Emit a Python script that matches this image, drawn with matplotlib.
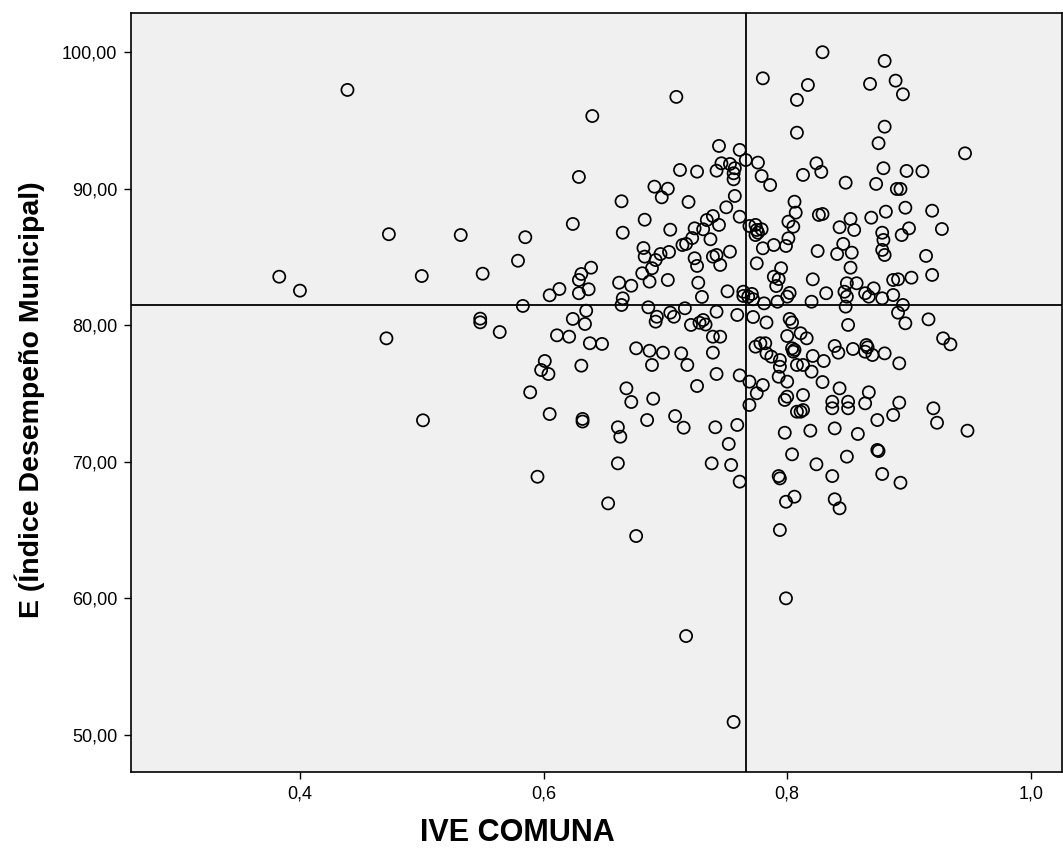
import matplotlib
matplotlib.use('Agg')
import matplotlib.pyplot as plt
import numpy as np

plt.rcParams['font.family'] = ['Liberation Sans', 'DejaVu Sans']

# ############################################################
# Datos (IVE comuna, indice de desempeno)
ive_izq = [0.439, 0.473, 0.532, 0.585, 0.579, 0.550, 0.500, 0.383, 0.400, 0.605,
           0.583, 0.548, 0.548, 0.564, 0.471, 0.601, 0.598, 0.604, 0.589, 0.605,
           0.501, 0.595]
ide_izq = [97.22, 86.66, 86.60, 86.44, 84.72, 83.77, 83.60, 83.55, 82.53, 82.19,
           81.41, 80.48, 80.21, 79.50, 79.04, 77.38, 76.72, 76.43, 75.09, 73.50,
           73.04, 68.91]

ive_a = [0.640, 0.629, 0.712, 0.691, 0.702, 0.697, 0.719, 0.664, 0.624, 0.683,
         0.665, 0.704, 0.682, 0.683, 0.696, 0.692, 0.703, 0.714, 0.717, 0.722,
         0.689, 0.681, 0.687, 0.702, 0.639, 0.631, 0.629, 0.637, 0.629, 0.613,
         0.662, 0.672, 0.665, 0.709]
ide_a = [95.31, 90.85, 91.36, 90.14, 89.99, 89.36, 89.02, 89.07, 87.41, 87.72,
         86.77, 86.99, 85.65, 85.02, 85.21, 84.77, 85.36, 85.87, 85.95, 86.38,
         84.17, 83.80, 83.19, 83.31, 84.21, 83.75, 83.31, 82.63, 82.34, 82.65,
         83.11, 82.89, 81.97, 96.71]

ive_b = [0.664, 0.635, 0.624, 0.634, 0.686, 0.693, 0.692, 0.704, 0.707, 0.716,
         0.611, 0.621, 0.638, 0.648, 0.676, 0.687, 0.698, 0.713, 0.689, 0.631,
         0.668, 0.672, 0.690, 0.632, 0.632, 0.685, 0.708, 0.715, 0.661, 0.663,
         0.661, 0.653, 0.676, 0.717]
ide_b = [81.48, 81.06, 80.46, 80.09, 81.31, 80.62, 80.26, 80.92, 80.62, 81.24,
         79.26, 79.16, 78.68, 78.63, 78.31, 78.13, 77.99, 77.94, 77.09, 77.04,
         75.38, 74.38, 74.62, 73.14, 72.95, 73.06, 73.35, 72.50, 72.53, 71.84,
         69.89, 66.96, 64.57, 57.25]

ive_c = [0.780, 0.808, 0.808, 0.744, 0.761, 0.766, 0.776, 0.779, 0.786, 0.813,
         0.726, 0.742, 0.746, 0.753, 0.757, 0.756, 0.756, 0.757, 0.750, 0.761,
         0.739, 0.734, 0.744, 0.731, 0.724, 0.737, 0.769, 0.774, 0.775, 0.779,
         0.774, 0.776, 0.806, 0.807, 0.801, 0.805, 0.801]
ide_c = [98.07, 96.49, 94.09, 93.12, 92.83, 92.09, 91.90, 90.92, 90.26, 91.00,
         91.24, 91.31, 91.85, 91.80, 91.49, 91.12, 90.68, 89.46, 88.63, 87.94,
         87.99, 87.70, 87.34, 87.02, 87.09, 86.29, 87.26, 87.34, 86.97, 87.02,
         86.60, 86.77, 89.04, 88.24, 87.58, 87.21, 86.36]

ive_d = [0.789, 0.780, 0.799, 0.753, 0.742, 0.739, 0.745, 0.724, 0.726, 0.775,
         0.795, 0.789, 0.793, 0.791, 0.727, 0.730, 0.751, 0.764, 0.764, 0.771,
         0.772, 0.768, 0.781, 0.802, 0.800, 0.792, 0.742, 0.759, 0.772, 0.783,
         0.728, 0.733, 0.731, 0.721, 0.802, 0.804]
ide_d = [85.87, 85.63, 85.80, 85.38, 85.14, 85.02, 84.41, 84.90, 84.34, 84.53,
         84.17, 83.55, 83.38, 82.87, 83.11, 82.07, 82.48, 82.45, 82.14, 82.29,
         81.90, 82.09, 81.60, 82.36, 82.09, 81.72, 80.99, 80.75, 80.60, 80.20,
         80.18, 80.05, 80.38, 80.02, 80.46, 80.20]

ive_e = [0.739, 0.745, 0.800, 0.774, 0.778, 0.782, 0.783, 0.787, 0.804, 0.806,
         0.805, 0.794, 0.794, 0.793, 0.800, 0.808, 0.718, 0.739, 0.742, 0.761,
         0.726, 0.769, 0.780, 0.775, 0.769, 0.800]
ide_e = [79.16, 79.16, 79.21, 78.43, 78.68, 78.68, 77.94, 77.70, 78.31, 78.19,
         78.06, 77.45, 76.96, 76.23, 75.87, 77.09, 77.09, 77.99, 76.43, 76.33,
         75.55, 75.87, 75.62, 75.02, 74.16, 74.77]

ive_f = [0.798, 0.808, 0.811, 0.813, 0.741, 0.759, 0.752, 0.738, 0.754, 0.761,
         0.798, 0.804, 0.793, 0.794, 0.806, 0.799, 0.794, 0.799, 0.756]
ide_f = [74.53, 73.67, 73.67, 73.79, 72.53, 72.70, 71.31, 69.89, 69.77, 68.55,
         72.13, 70.55, 68.96, 68.79, 67.45, 67.08, 65.01, 60.01, 50.96]

ive_g = [0.829, 0.880, 0.817, 0.868, 0.889, 0.895, 0.880, 0.875, 0.824, 0.828,
         0.848, 0.879, 0.873, 0.898, 0.911, 0.890, 0.893, 0.826, 0.829, 0.852,
         0.843, 0.855, 0.869, 0.881, 0.897, 0.919, 0.878, 0.894, 0.900, 0.927,
         0.946]
ide_g = [99.98, 99.34, 97.58, 97.66, 97.90, 96.90, 94.53, 93.32, 91.85, 91.22,
         90.43, 91.49, 90.34, 91.29, 91.27, 89.97, 89.97, 88.07, 88.14, 87.78,
         87.17, 86.97, 87.87, 88.31, 88.60, 88.38, 86.77, 86.60, 87.09, 87.04,
         92.58]

ive_h = [0.879, 0.878, 0.880, 0.825, 0.841, 0.846, 0.853, 0.852, 0.914, 0.821,
         0.919, 0.849, 0.857, 0.847, 0.849, 0.848, 0.832, 0.864, 0.867, 0.871,
         0.878, 0.887, 0.891, 0.902, 0.887, 0.895, 0.891, 0.897, 0.916, 0.820,
         0.850, 0.811, 0.816, 0.839, 0.842, 0.854, 0.865, 0.866, 0.864, 0.870,
         0.880, 0.892, 0.821, 0.830, 0.813, 0.820, 0.829, 0.843, 0.867, 0.813,
         0.837, 0.850, 0.864, 0.892, 0.920, 0.928, 0.934]
ide_h = [86.24, 85.51, 85.14, 85.43, 85.21, 85.95, 85.31, 84.21, 85.07, 83.36,
         83.68, 83.07, 83.07, 82.45, 82.09, 81.36, 82.34, 82.34, 82.09, 82.70,
         81.97, 83.31, 83.36, 83.48, 82.21, 81.48, 80.92, 80.14, 80.43, 81.72,
         80.02, 79.41, 79.04, 78.48, 77.99, 78.26, 78.55, 78.38, 78.06, 77.82,
         77.94, 77.21, 77.75, 77.38, 77.09, 76.60, 75.84, 75.38, 75.09, 74.89,
         74.40, 74.40, 74.28, 74.33, 73.92, 79.04, 78.60]

ive_i = [0.837, 0.850, 0.874, 0.887, 0.923, 0.819, 0.839, 0.858, 0.874, 0.875,
         0.849, 0.824, 0.837, 0.878, 0.893, 0.839, 0.843, 0.948]
ide_i = [73.92, 73.92, 73.06, 73.43, 72.86, 72.28, 72.45, 72.04, 70.87, 70.79,
         70.38, 69.82, 68.96, 69.11, 68.47, 67.26, 66.60, 72.28]

# lineas de referencia (medias)
ive_ref = 0.766
ide_ref = 81.48

x_ticks = [0.4, 0.6, 0.8, 1.0]
x_labels = ['0,4', '0,6', '0,8', '1,0']
y_ticks = [50, 60, 70, 80, 90, 100]
y_labels = ['50,00', '60,00', '70,00', '80,00', '90,00', '100,00']

ive = np.concatenate([ive_izq, ive_a, ive_b, ive_c, ive_d, ive_e, ive_f, ive_g, ive_h, ive_i])
ide = np.concatenate([ide_izq, ide_a, ide_b, ide_c, ide_d, ide_e, ide_f, ide_g, ide_h, ide_i])

# ############################################################
# Figura y ejes
W, H = 1063, 859
fig = plt.figure(figsize=(W / 100, H / 100), dpi=100)
ax = fig.add_axes([131 / W, 1 - 772 / H, (1062 - 131) / W, (772 - 13) / H])
ax.set_facecolor('#f0f0f0')

ax.scatter(ive, ide, s=76, facecolors='none', edgecolors='black', linewidths=1.25, zorder=3)
ax.axvline(ive_ref, color='black', lw=1.3, zorder=2)
ax.axhline(ide_ref, color='black', lw=1.3, zorder=2)

ax.set_xlim(0.2613, 1.0256)
ax.set_ylim(47.30, 102.85)
ax.set_xticks(x_ticks)
ax.set_xticklabels(x_labels)
ax.set_yticks(y_ticks)
ax.set_yticklabels(y_labels)
ax.tick_params(direction='out', length=5, width=1, labelsize=13, pad=5)
for s in ax.spines.values():
    s.set_linewidth(1.2)

ax.set_xlabel('IVE COMUNA', fontsize=22, fontweight='bold')
ax.set_ylabel('E (Índice Desempeño Municipal)', fontsize=20.5, fontweight='bold')
ax.xaxis.set_label_coords(0.4146, -0.0804)
ax.xaxis.label.set_verticalalignment('center')
ax.yaxis.set_label_coords(-0.1085, 0.49)
ax.yaxis.label.set_verticalalignment('center')

fig.savefig('out.png', dpi=100, facecolor='white')
